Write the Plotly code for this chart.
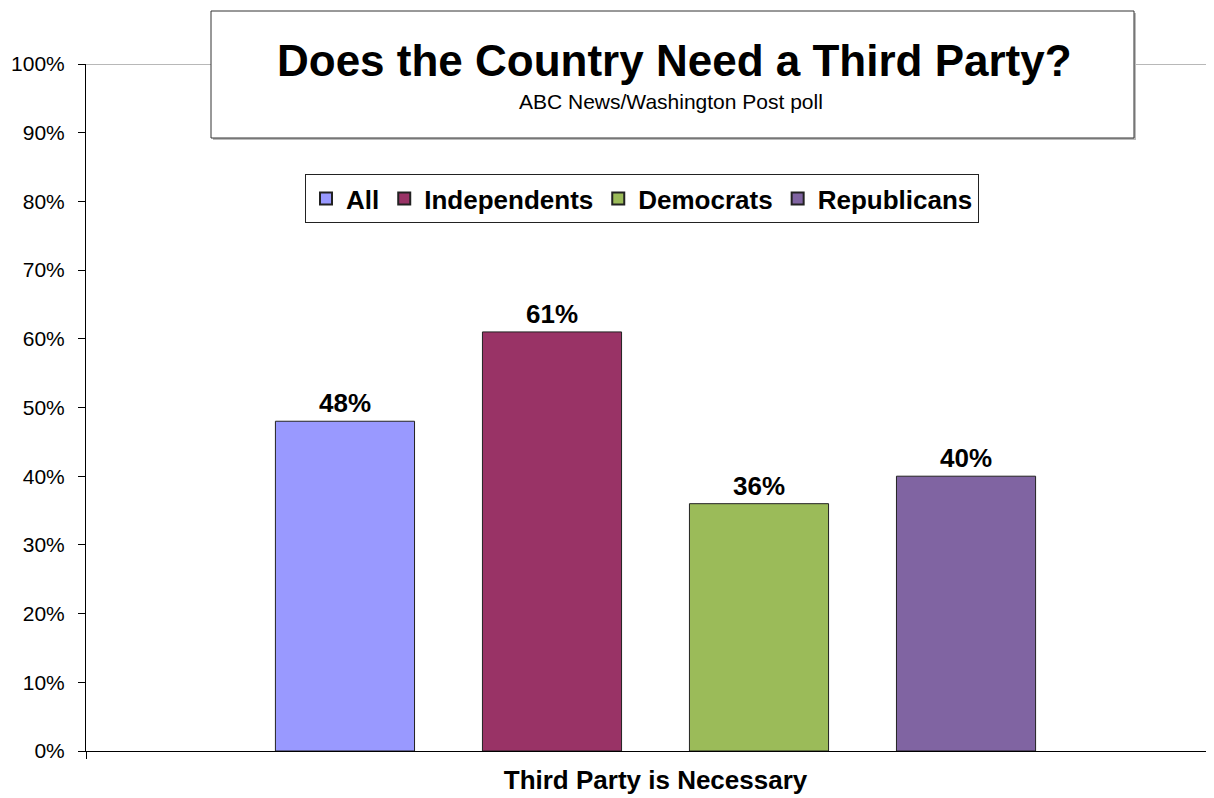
import plotly.graph_objects as go

category = ["Third Party is Necessary"]
series_names = ["All", "Independents", "Democrats", "Republicans"]
series_values = [0.48, 0.61, 0.36, 0.40]
series_colors = ["#9999FF", "#993366", "#9BBB59", "#8064A2"]
y_ticks = [i / 10 for i in range(11)]

FONT = "Arial, Liberation Sans, sans-serif"

# page offset of the figure inside the browser (default body margin)
OFF = 8
W, H = 1214 - OFF, 798 - OFF
L = 86 - OFF          # y axis position
TOP = 64 - OFF        # 100% line
BOT = 751 - OFF       # 0% line
plot_w = W - L
plot_h = BOT - TOP
unit = 1139.0


def px(xr):
    return (xr - OFF - L) / plot_w


def py(yr):
    return (BOT - (yr - OFF)) / plot_h


fig = go.Figure()
for name, val, col in zip(series_names, series_values, series_colors):
    fig.add_trace(go.Bar(
        x=category, y=[val], name=name,
        marker=dict(color=col, line=dict(color="#222222", width=1)),
        texttemplate="%{y:.0%}", textposition="outside",
        textfont=dict(family=FONT, size=26, color="#000000", weight="bold"),
        cliponaxis=False,
    ))

fig.update_layout(
    width=W, height=H,
    margin=dict(l=L, r=0, t=TOP, b=H - BOT, pad=0),
    paper_bgcolor="white", plot_bgcolor="white",
    barmode="group", bargap=0.273, bargroupgap=0.328,
    font=dict(family=FONT, color="#000000"),
    showlegend=True,
    legend=dict(
        orientation="h", x=px(642), y=py(198.5), xanchor="center", yanchor="middle",
        bgcolor="white", bordercolor="#222222", borderwidth=1,
        font=dict(family=FONT, size=26, color="#000000", weight="bold"),
        itemsizing="constant",
        traceorder="normal",
    ),
    xaxis=dict(
        type="category",
        range=[-0.5, -0.5 + plot_w / unit],
        showline=True, linecolor="#000000", linewidth=1,
        ticks="outside", tickson="boundaries", ticklen=7, tickcolor="#000000",
        tickfont=dict(family=FONT, size=26, color="#000000", weight="bold"),
        ticklabelstandoff=6,
        showgrid=False, zeroline=False,
    ),
    yaxis=dict(
        range=[0, 1], tickvals=y_ticks, tickformat=".0%",
        showline=True, linecolor="#000000", linewidth=1,
        ticks="outside", ticklen=7, tickcolor="#000000",
        tickfont=dict(family=FONT, size=21, color="#000000"),
        ticklabelstandoff=9,
        showgrid=False, zeroline=False,
    ),
    shapes=[
        dict(type="line", xref="paper", yref="y", x0=0, x1=1, y0=1, y1=1,
             line=dict(color="#A0A0A0", width=1.5), layer="below"),
        dict(type="rect", xref="paper", yref="paper",
             x0=px(213), x1=px(1136), y0=py(140), y1=py(13),
             fillcolor="#BBBBBB", line=dict(width=0), layer="above"),
        dict(type="rect", xref="paper", yref="paper",
             x0=px(211), x1=px(1134), y0=py(138), y1=py(11),
             fillcolor="white", line=dict(color="#333333", width=1), layer="above"),
    ],
    annotations=[
        dict(text="<b>Does the Country Need a Third Party?</b>", xref="paper", yref="paper",
             x=px(674), y=py(60), xanchor="center", yanchor="middle",
             showarrow=False, font=dict(family=FONT, size=44, color="#000000")),
        dict(text="ABC News/Washington Post poll", xref="paper", yref="paper",
             x=px(671), y=py(101), xanchor="center", yanchor="middle",
             showarrow=False, font=dict(family=FONT, size=21, color="#000000")),
    ],
)

fig.write_html("out.html")
